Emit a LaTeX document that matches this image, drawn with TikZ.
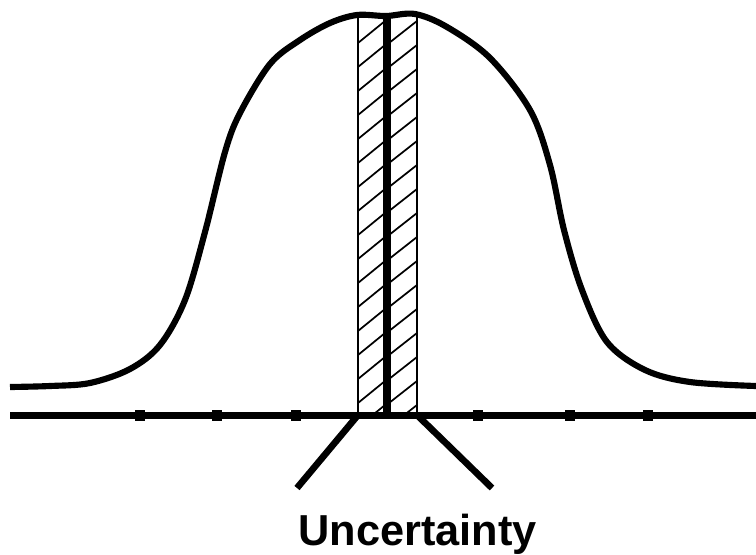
\documentclass[tikz,border=0pt]{standalone}
\usepackage{fontspec}
\setmainfont{Liberation Sans}
\usetikzlibrary{positioning}
\tikzset{
curve/.style={
line width=4.6pt,
line join=round
},
axis/.style={
line width=5.8pt
},
tickmark/.style={
fill,
inner sep=0pt,
minimum width=7.5pt,
minimum height=8pt
},
edge/.style={
line width=1.5pt
},
hatch/.style={
line width=1.3pt
},
centre/.style={
line width=6pt
},
leader/.style={
line width=5pt
},
label/.style={
font=\bfseries\fontsize{32.5}{38}\selectfont,
anchor=base
}
}

\begin{document}
\begin{tikzpicture}[x=0.75pt,y=-0.75pt]
\useasboundingbox (0,0) rectangle (756,554);

% hatched band
\coordinate (bl) at (358,415);
\coordinate (br) at (417,415);
\coordinate (tl) at (358,15);
\coordinate (tr) at (417,14);
\begin{scope}
\clip (tl) rectangle (br);
\foreach \y in {43,67,...,460}{
\draw[hatch] (358,\y) -- (385,\y-22);
\draw[hatch] (389,\y) -- (417,\y-22);
}
\end{scope}
\draw[edge] (tl) -- (bl);
\draw[edge] (tr) -- (br);
\coordinate (ct) at (387,16);
\coordinate (cb) at (387,415);
\draw[centre] (ct) -- (cb);

% axis
\coordinate (a0) at (10,415.5);
\coordinate (a1) at (756,415.5);
\draw[axis] (a0) -- (a1);
\foreach \x in {140,217,296,478,570,648}
\node[tickmark] at (\x,415.5) {};

% distribution
\draw[curve] plot[smooth,tension=0.55] coordinates {
(10,387) (50,386) (90,383) (130,369) (160,345) (185,300) (205,232)
(225,152) (240,113) (270,64) (300,40) (330,23) (357,15) (386,16)
(415,14) (447,27) (490,58) (530,110) (550,165) (564,230)
(582,290) (607,342) (645,370) (690,382) (756,386)};

% leaders and label
\coordinate (ll) at (297,488);
\coordinate (lr) at (492,488);
\draw[leader] (bl) -- (ll);
\draw[leader] (br) -- (lr);
\node[label] (unc) at (417.5,545) {Uncertainty};
\end{tikzpicture}
\end{document}
